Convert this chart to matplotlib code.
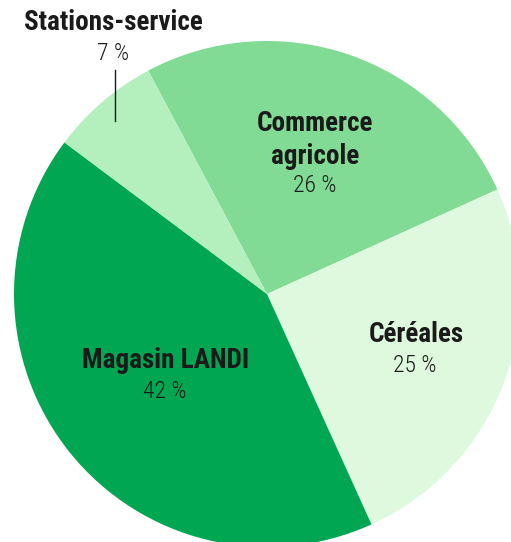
import matplotlib

matplotlib.use("Agg")
import matplotlib.pyplot as plt

labels = ["Commerce\nagricole", "Céréales", "Magasin LANDI", "Stations-service"]
shares = [26, 25, 42, 7]
colors = ["#82DB94", "#DEF9DE", "#00A651", "#B4F0BE"]

W, H = 511, 542
CX, CY, R = 267, 294, 253


def px(x, y):
    # pixel (top-left origin) -> data coords of a unit pie
    return (x - CX) / R, (CY - y) / R


fig = plt.figure(figsize=(W / 100, H / 100), dpi=100)
ax = fig.add_axes([0, 0, 1, 1])
ax.pie(shares, colors=colors, startangle=118, counterclock=False, radius=1,
       wedgeprops=dict(linewidth=0))
ax.set_xlim(-CX / R, (W - CX) / R)
ax.set_ylim(-(H - CY) / R, CY / R)
ax.set_aspect("equal")
ax.axis("off")

FONT = ["Roboto Condensed", "DejaVu Sans"]
bold = dict(family=FONT, weight="bold", size=19.5, color="#1A1A1A",
            ha="center", va="center")
light = dict(family=FONT, weight="light", size=17, color="#1A1A1A",
             ha="center", va="center")

label_pos = [(315, 140), (416, 334), (166, 360), (113, 23)]
pct_pos = [(315, 186), (415, 365), (165, 392), (113, 53)]
for lab, v, lp, pp in zip(labels, shares, label_pos, pct_pos):
    ax.text(*px(*lp), lab, linespacing=1.25, **bold)
    ax.text(*px(*pp), f"{v} %", **light)

x0, y0 = px(115, 70)
x1, y1 = px(115, 121)
ax.plot([x0, x1], [y0, y1], color="#1A1A1A", lw=1)

fig.savefig("out.png", dpi=100)
